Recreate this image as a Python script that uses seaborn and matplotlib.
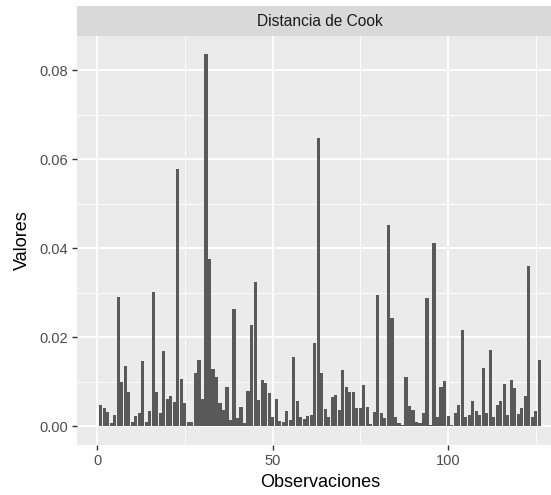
import numpy as np
import pandas as pd
import matplotlib
matplotlib.use("Agg")
import matplotlib.pyplot as plt
from matplotlib.ticker import FixedLocator
import seaborn as sns

# distancia de Cook por observacion
cook = [0.0047, 0.0041, 0.0032, 0.0008, 0.0026, 0.0290, 0.0100, 0.0135, 0.0077, 0.0009,
        0.0023, 0.0029, 0.0146, 0.0010, 0.0035, 0.0302, 0.0077, 0.0029, 0.0169, 0.0062,
        0.0068, 0.0055, 0.0577, 0.0107, 0.0053, 0.0010, 0.0010, 0.0121, 0.0150, 0.0062,
        0.0837, 0.0375, 0.0128, 0.0112, 0.0053, 0.0036, 0.0088, 0.0014, 0.0263, 0.0019,
        0.0043, 0.0008, 0.0080, 0.0228, 0.0324, 0.0060, 0.0105, 0.0098, 0.0074, 0.0021,
        0.0062, 0.0011, 0.0010, 0.0035, 0.0014, 0.0156, 0.0057, 0.0020, 0.0016, 0.0023,
        0.0025, 0.0187, 0.0647, 0.0121, 0.0040, 0.0021, 0.0066, 0.0071, 0.0037, 0.0126,
        0.0088, 0.0078, 0.0078, 0.0041, 0.0041, 0.0092, 0.0043, 0.0005, 0.0032, 0.0296,
        0.0030, 0.0019, 0.0453, 0.0243, 0.0021, 0.0008, 0.0004, 0.0110, 0.0045, 0.0037,
        0.0010, 0.0008, 0.0029, 0.0288, 0.0004, 0.0413, 0.0021, 0.0088, 0.0101, 0.0023,
        0.0004, 0.0031, 0.0049, 0.0216, 0.0021, 0.0025, 0.0058, 0.0034, 0.0025, 0.0130,
        0.0031, 0.0171, 0.0021, 0.0049, 0.0058, 0.0095, 0.0025, 0.0105, 0.0087, 0.0028,
        0.0041, 0.0068, 0.0361, 0.0021, 0.0035, 0.0150]
obs = list(range(1, len(cook) + 1))

x_major = [0, 50, 100]
x_minor = [25, 75, 125]
y_major = [0.00, 0.02, 0.04, 0.06, 0.08]
y_minor = [0.01, 0.03, 0.05, 0.07]
y_labels = ["0.00", "0.02", "0.04", "0.06", "0.08"]

df = pd.DataFrame({"Observaciones": obs, "Valores": cook})

plt.rcParams['font.family'] = ['Liberation Sans', 'DejaVu Sans']

W, H = 551, 495
fig = plt.figure(figsize=(W / 100, H / 100), dpi=100)
# panel (se sale un poco por la derecha, como en la imagen original)
ax = fig.add_axes([77 / W, 1 - 445 / H, (563 - 77) / W, (445 - 36) / H])
ax.set_facecolor("#EBEBEB")

sns.barplot(data=df, x="Observaciones", y="Valores", native_scale=True,
            color="#595959", saturation=1, width=0.9, linewidth=0, ax=ax, zorder=3)

ax.set_xlim(-5.75, 132.75)
ax.set_ylim(-0.004185, 0.087685)

ax.xaxis.set_major_locator(FixedLocator(x_major))
ax.xaxis.set_minor_locator(FixedLocator(x_minor))
ax.yaxis.set_major_locator(FixedLocator(y_major))
ax.yaxis.set_minor_locator(FixedLocator(y_minor))
ax.set_xticklabels([str(v) for v in x_major])
ax.set_yticklabels(y_labels)

ax.grid(which="major", color="white", linewidth=1.3, zorder=0)
ax.grid(which="minor", color="white", linewidth=0.6, zorder=0)
ax.set_axisbelow(True)
for s in ax.spines.values():
    s.set_visible(False)

ax.tick_params(which="major", length=3.5, width=1, color="#333333",
               labelcolor="#4D4D4D", labelsize=10.5, pad=3)
ax.tick_params(which="minor", length=0)

ax.set_xlabel("Observaciones", fontsize=13, color="black", labelpad=4)
ax.set_ylabel("Valores", fontsize=13, color="black", labelpad=6)

# franja del facet
strip = fig.add_axes([77 / W, 1 - 36 / H, (563 - 77) / W, 30 / H])
strip.set_facecolor("#D9D9D9")
strip.set_xticks([])
strip.set_yticks([])
for s in strip.spines.values():
    s.set_visible(False)
strip.text(0.5, 0.5, "Distancia de Cook", ha="center", va="center",
           fontsize=11.2, color="#1A1A1A", transform=strip.transAxes)

fig.savefig("out.png", dpi=100)
